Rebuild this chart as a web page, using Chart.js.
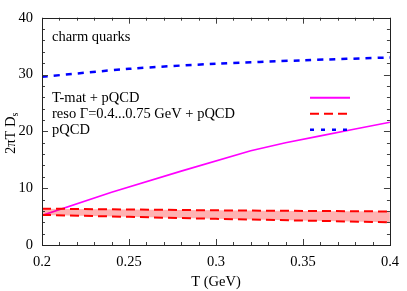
<!DOCTYPE html>
<html>
<head>
<meta charset="utf-8">
<script src="https://cdn.jsdelivr.net/npm/chart.js@4"></script>
<style>
  html, body { margin: 0; padding: 0; background: #fff; }
  #wrap { width: 407px; height: 291px; }
</style>
</head>
<body>
<div id="wrap"><canvas id="chart"></canvas></div>
<script>
// temperatures (GeV) and spatial diffusion coefficient 2piT Ds
const tMat = [0.2, 0.24, 0.28, 0.32, 0.34, 0.36, 0.38, 0.4];
const tMatDs = [5.2, 9.3, 13.0, 16.6, 18.0, 19.2, 20.4, 21.6];

const resoT = [0.2, 0.25, 0.3, 0.35, 0.4];
const resoUpper = [6.4, 6.25, 6.1, 6.0, 5.9];
const resoLower = [5.3, 4.95, 4.6, 4.3, 4.0];

const pqcdT = [0.2, 0.25, 0.3, 0.35, 0.4];
const pqcdDs = [29.6, 31.0, 31.9, 32.5, 33.0];

const xTicks = [0.2, 0.25, 0.3, 0.35, 0.4];
const yTicks = [0, 10, 20, 30, 40];

const legendLabels = ['T-mat + pQCD', 'reso \u0393=0.4...0.75 GeV + pQCD', 'pQCD'];

const FONT = '"Liberation Serif", "DejaVu Serif", serif';
const FS = 14.5;

function pts(xs, ys) {
  return xs.map((x, i) => ({ x: x, y: ys[i] }));
}

// frame, inside ticks (major + minor, mirrored), legend and annotation text
const decorations = {
  id: 'decorations',
  afterDatasetsDraw(chart) {
    const { ctx, chartArea: a, scales } = chart;
    const xs = scales.x, ys = scales.y;
    ctx.save();
    ctx.strokeStyle = '#404040';
    ctx.lineWidth = 1;
    ctx.beginPath();
    for (let i = 0; i <= 20; i++) {
      const v = 0.2 + i * 0.01;
      const px = Math.round(xs.getPixelForValue(v)) + 0.5;
      const len = i % 5 === 0 ? 6 : 3;
      ctx.moveTo(px, a.bottom); ctx.lineTo(px, a.bottom - len);
      ctx.moveTo(px, a.top); ctx.lineTo(px, a.top + len);
    }
    for (let i = 0; i <= 20; i++) {
      const v = i * 2;
      const py = Math.round(ys.getPixelForValue(v)) + 0.5;
      const len = i % 5 === 0 ? 6 : 3;
      ctx.moveTo(a.left, py); ctx.lineTo(a.left + len, py);
      ctx.moveTo(a.right, py); ctx.lineTo(a.right - len, py);
    }
    ctx.stroke();
    ctx.strokeStyle = '#222';
    ctx.strokeRect(Math.round(a.left) + 0.5, Math.round(a.top) + 0.5,
      Math.round(a.right - a.left), Math.round(a.bottom - a.top));

    // texts
    ctx.fillStyle = '#000';
    ctx.font = FS + 'px ' + FONT;
    ctx.textBaseline = 'middle';
    ctx.textAlign = 'left';
    ctx.fillText('charm quarks', a.left + 10, a.top + 19);

    const styles = [
      { color: '#ff00ff', dash: [], width: 2 },
      { color: '#ff0000', dash: [9, 5], width: 2 },
      { color: '#0000ff', dash: [4, 7], width: 2.5 }
    ];
    legendLabels.forEach((lab, i) => {
      const y = a.top + 80 + i * 16;
      ctx.fillText(lab, a.left + 10, y);
      const s = styles[i];
      ctx.beginPath();
      ctx.strokeStyle = s.color;
      ctx.lineWidth = s.width;
      ctx.setLineDash(s.dash);
      ctx.moveTo(310, y);
      ctx.lineTo(350, y);
      ctx.stroke();
    });
    ctx.setLineDash([]);

    // y title with subscript
    ctx.save();
    ctx.translate(11, (a.top + a.bottom) / 2 + 2);
    ctx.rotate(-Math.PI / 2);
    ctx.textAlign = 'left';
    ctx.font = FS + 'px ' + FONT;
    const main = '2\u03C0T D';
    const w = ctx.measureText(main).width;
    ctx.font = '10px ' + FONT;
    const ws = ctx.measureText('s').width;
    const x0 = -(w + ws) / 2;
    ctx.font = FS + 'px ' + FONT;
    ctx.fillText(main, x0, 0);
    ctx.font = '10px ' + FONT;
    ctx.fillText('s', x0 + w, 4);
    ctx.restore();

    ctx.restore();
  }
};

const cfg = {
  type: 'line',
  data: {
    datasets: [
      {
        label: 'reso upper',
        data: pts(resoT, resoUpper),
        borderColor: '#ff0000',
        borderWidth: 2,
        borderDash: [9, 5],
        backgroundColor: 'rgba(255, 0, 0, 0.3)',
        fill: '+1',
        pointRadius: 0,
        tension: 0
      },
      {
        label: 'reso lower',
        data: pts(resoT, resoLower),
        borderColor: '#ff0000',
        borderWidth: 2,
        borderDash: [9, 5],
        fill: false,
        pointRadius: 0,
        tension: 0
      },
      {
        label: 'T-mat + pQCD',
        data: pts(tMat, tMatDs),
        borderColor: '#ff00ff',
        borderWidth: 1.6,
        fill: false,
        pointRadius: 0,
        tension: 0
      },
      {
        label: 'pQCD',
        data: pts(pqcdT, pqcdDs),
        borderColor: '#0000ff',
        borderWidth: 2.5,
        borderDash: [6, 6],
        fill: false,
        pointRadius: 0,
        tension: 0.3
      }
    ]
  },
  options: {
    responsive: true,
    maintainAspectRatio: false,
    animation: false,
    devicePixelRatio: 1,
    layout: { padding: { left: 0, right: 13, top: 6, bottom: 0 } },
    plugins: {
      legend: { display: false },
      tooltip: { enabled: false }
    },
    scales: {
      x: {
        type: 'linear',
        min: 0.2,
        max: 0.4,
        afterFit: s => { s.height = 46; },
        afterBuildTicks: s => { s.ticks = xTicks.map(v => ({ value: v })); },
        grid: { display: false, drawTicks: false },
        border: { display: false },
        ticks: {
          padding: 8,
          color: '#000',
          font: { family: FONT, size: FS },
          callback: v => String(v)
        },
        title: {
          display: true,
          text: 'T (GeV)',
          color: '#000',
          font: { family: FONT, size: FS },
          padding: { top: 3, bottom: 0 }
        }
      },
      y: {
        type: 'linear',
        min: 0,
        max: 40,
        afterFit: s => { s.width = 42; },
        afterBuildTicks: s => { s.ticks = yTicks.map(v => ({ value: v })); },
        grid: { display: false, drawTicks: false },
        border: { display: false },
        ticks: {
          padding: 9,
          color: '#000',
          font: { family: FONT, size: FS }
        }
      }
    }
  },
  plugins: [decorations]
};

new Chart(document.getElementById('chart'), cfg);
</script>
</body>
</html>
